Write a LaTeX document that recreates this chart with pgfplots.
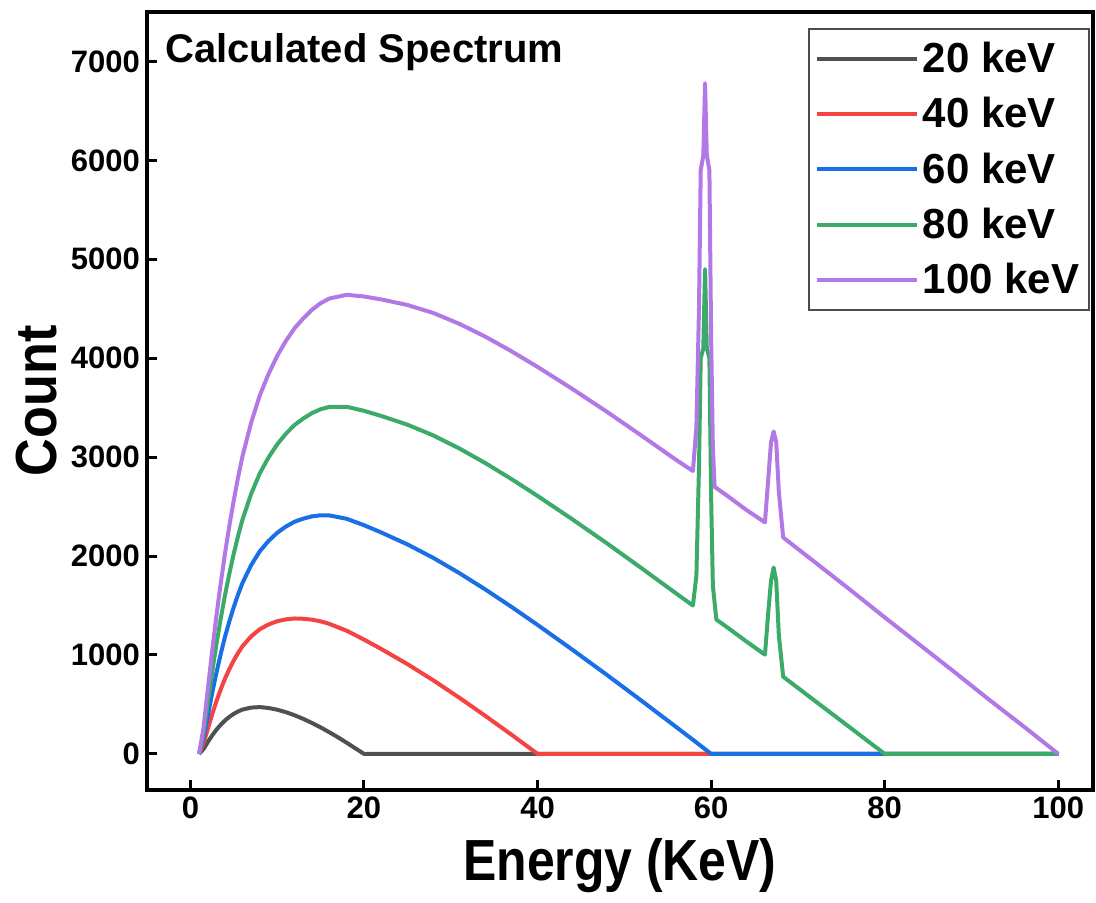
\documentclass[border=0pt]{standalone}
\usepackage{pgfplots}
\pgfplotsset{compat=1.18}
\usepackage{fontspec}
\setmainfont{Liberation Sans}
\definecolor{cgray}{RGB}{80,80,80}
\definecolor{cred}{RGB}{245,66,66}
\definecolor{cblue}{RGB}{26,110,230}
\definecolor{cgreen}{RGB}{60,170,105}
\definecolor{cpurple}{RGB}{178,120,230}
\begin{document}
\begin{tikzpicture}
\begin{axis}[
  at={(0,0)}, anchor=south west,
  scale only axis, width=473pt, height=389pt,
  xmin=-5, xmax=104, ymin=-365, ymax=7500,
  xtick={0,20,40,60,80,100},
  ytick={0,1000,2000,3000,4000,5000,6000,7000},
  tick pos=left, tick align=inside,
  major tick length=5pt,
  every tick/.style={black, line width=1.5pt},
  axis line style={line width=2.2pt},
  /pgf/number format/assume math mode=true,
  /pgf/number format/1000 sep={},
  tick label style={font=\fontsize{15.5}{18}\selectfont\bfseries},
  xlabel={\scalebox{0.86}[1]{Energy (KeV)}}, ylabel={\scalebox{0.9}[1]{Count}},
  label style={font=\fontsize{29}{34}\selectfont\bfseries},
  xlabel style={at={(axis description cs:0.5,-0.0977)}, anchor=center},
  ylabel style={at={(axis description cs:-0.1163,0.5)}, anchor=center, rotate=0},
  legend style={at={(rel axis cs:0.9968,0.9794)}, anchor=north east,
    draw=black!70, line width=0.8pt, font=\fontsize{21}{25}\selectfont\bfseries,
    row sep=7pt, inner xsep=3pt, inner ysep=4.5pt},
  legend cell align=left,
  legend image code/.code={\draw[#1, line width=2pt] (0pt,0pt) -- (50pt,0pt);},
  every axis plot/.append style={line width=2pt, line join=round},
]
\addplot[cgray] coordinates {
(1.0,0) (1.5,48) (2.0,119) (2.5,186) (3.0,245) (3.5,295) (4.0,339) (4.5,375)
(5.0,405) (5.5,429) (6.0,448) (7.0,468) (8.0,473) (9.0,464) (10.0,447)
(11.0,422) (12.0,391) (13.0,354) (14.0,313) (15.0,268) (16.0,219) (17.0,168)
(18.0,113) (19.0,57) (20.0,0) (100,0)};
\addlegendentry{20 keV}
\addplot[cred] coordinates {
(1.0,0) (1.5,100) (2.0,251) (2.5,398) (3.0,533) (3.5,653) (4.0,763) (4.5,859)
(5.0,945) (5.5,1021) (6.0,1088) (7.0,1188) (8.0,1261) (9.0,1308) (10.0,1341)
(11.0,1360) (12.0,1369) (13.0,1366) (14.0,1357) (15.0,1340) (16.0,1315)
(18.0,1245) (20.0,1156) (22.0,1060) (25.0,908) (28.0,743) (31.0,567)
(34.0,383) (37.0,194) (40.0,0) (100,0)};
\addlegendentry{40 keV}
\addplot[cblue] coordinates {
(1.0,0) (1.5,152) (2.0,383) (2.5,610) (3.0,821) (3.5,1011) (4.0,1187) (4.5,1343)
(5.0,1485) (5.5,1613) (6.0,1728) (7.0,1908) (8.0,2049) (9.0,2152) (10.0,2235)
(11.0,2298) (12.0,2347) (13.0,2378) (14.0,2401) (15.0,2412) (16.0,2411)
(18.0,2377) (20.0,2312) (22.0,2238) (25.0,2118) (28.0,1981) (31.0,1827)
(34.0,1661) (37.0,1486) (40.0,1304) (44.0,1054) (48.0,798) (52.0,536)
(56.0,270) (58.0,136) (60.0,0) (100,0)};
\addlegendentry{60 keV}
\addplot[cgreen] coordinates {
(1.0,0) (1.5,204) (2.0,515) (2.5,822) (3.0,1109) (3.5,1369) (4.0,1611) (4.5,1827)
(5.0,2025) (5.5,2205) (6.0,2368) (7.0,2628) (8.0,2837) (9.0,2996) (10.0,3129)
(11.0,3236) (12.0,3325) (13.0,3390) (14.0,3445) (15.0,3484) (16.0,3507)
(18.0,3509) (20.0,3468) (22.0,3416) (25.0,3328) (28.0,3219) (31.0,3087)
(34.0,2939) (37.0,2778) (40.0,2608) (44.0,2372) (48.0,2128) (52.0,1876)
(56.0,1620) (57.9,1500)
(58.3,1800) (58.6,2900) (58.8,4000) (59.1,4100) (59.3,4900) (59.5,4100)
(59.8,4000) (60.0,2600) (60.2,1700) (60.6,1358)
(62.0,1270) (64.0,1140) (66.2,1003)
(66.6,1450) (66.9,1750) (67.2,1884) (67.5,1750) (67.8,1200) (68.3,780)
(70.0,667) (72.0,533) (74.0,400) (76.0,267) (78.0,133) (80.0,0) (100,0)};
\addlegendentry{80 keV}
\addplot[cpurple] coordinates {
(1.0,0) (1.5,256) (2.0,647) (2.5,1034) (3.0,1397) (3.5,1727) (4.0,2035) (4.5,2311)
(5.0,2565) (5.5,2797) (6.0,3008) (7.0,3348) (8.0,3625) (9.0,3840) (10.0,4023)
(11.0,4174) (12.0,4303) (13.0,4402) (14.0,4489) (15.0,4556) (16.0,4603)
(18.0,4641) (20.0,4624) (22.0,4594) (25.0,4538) (28.0,4457) (31.0,4347)
(34.0,4217) (37.0,4070) (40.0,3912) (44.0,3690) (48.0,3458) (52.0,3216)
(56.0,2970) (57.9,2860)
(58.3,3300) (58.6,4500) (58.8,5900) (59.1,6050) (59.3,6780) (59.5,6050)
(59.8,5900) (60.0,4200) (60.2,3100) (60.4,2700)
(62.0,2600) (64.0,2470) (66.2,2340)
(66.6,2800) (66.9,3150) (67.2,3260) (67.5,3150) (67.8,2650) (68.3,2188)
(72.0,1935) (76.0,1660) (80.0,1380) (84.0,1105) (88.0,830) (92.0,550)
(96.0,278) (100.0,0)};
\addlegendentry{100 keV}
\node[anchor=west, inner sep=0pt, font=\fontsize{20}{24}\selectfont\bfseries]
  at (rel axis cs:0.019,0.9486) {Calculated Spectrum};
\end{axis}
\pgfresetboundingbox
\path[use as bounding box] (-73.5pt,-56.5pt) rectangle (474.5pt,395pt);
\end{tikzpicture}
\end{document}
